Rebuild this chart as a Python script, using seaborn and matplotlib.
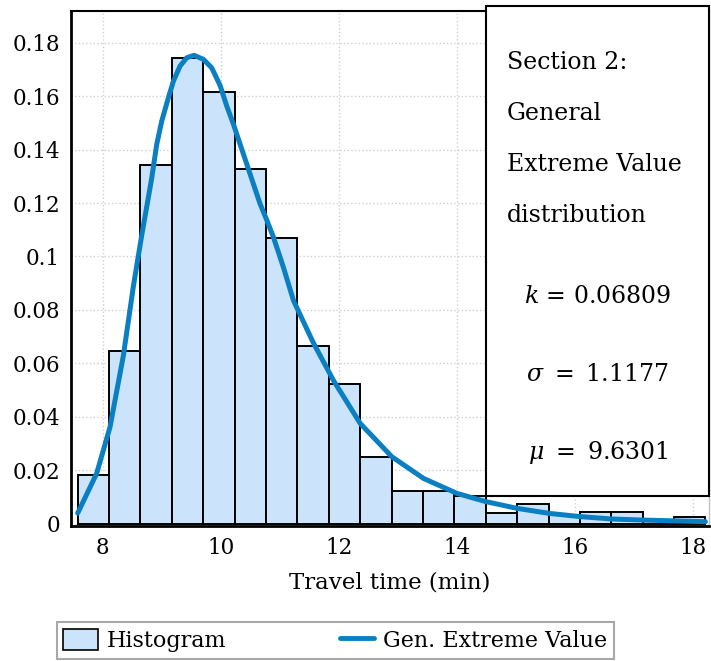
import numpy as np
import pandas as pd
import matplotlib
matplotlib.use("Agg")
import matplotlib.pyplot as plt
import matplotlib.ticker as mticker
from matplotlib.patches import Rectangle, Patch
from matplotlib.lines import Line2D
import seaborn as sns

sns.set_style("white")
plt.rcParams['font.family'] = ['DejaVu Serif']
plt.rcParams['mathtext.fontset'] = 'dejavuserif'
plt.rcParams['text.color'] = 'black'
plt.rcParams['axes.labelcolor'] = 'black'
plt.rcParams['xtick.labelcolor'] = 'black'
plt.rcParams['ytick.labelcolor'] = 'black'

# histogram (relative frequency per bin), 20 equal bins
bin_lo, bin_hi, n_bins = 7.576, 18.21, 20
hist_heights = [0.0182, 0.0646, 0.1342, 0.1744, 0.1614, 0.1329, 0.1070, 0.0664,
                0.0521, 0.0250, 0.0122, 0.0122, 0.0103, 0.0041, 0.0072, 0.0032,
                0.0042, 0.0042, 0.0012, 0.0024]

# fitted GEV curve
curve_x = [7.576, 7.898, 8.124, 8.349, 8.519, 8.661, 8.773, 8.831, 8.915, 9.000,
           9.112, 9.197, 9.310, 9.424, 9.547, 9.705, 9.847, 9.988, 10.101, 10.214,
           10.327, 10.441, 10.553, 10.667, 10.779, 10.892, 11.061, 11.231, 11.569,
           11.908, 12.361, 12.898, 13.434, 14.0, 14.492, 15.017, 15.564, 16.090,
           16.627, 17.163, 18.208]
curve_y = [0.0039, 0.0188, 0.0362, 0.0628, 0.0888, 0.1080, 0.1221, 0.1295, 0.1420,
           0.1507, 0.1594, 0.1656, 0.1713, 0.1744, 0.1753, 0.1738, 0.1706, 0.1640,
           0.1563, 0.1495, 0.1420, 0.1345, 0.1271, 0.1196, 0.1136, 0.1072, 0.0959,
           0.0835, 0.0676, 0.0536, 0.0375, 0.0250, 0.0169, 0.0113, 0.0082, 0.0057,
           0.0038, 0.0026, 0.0017, 0.0013, 0.0007]

box_lines = ["Section 2:", "General", "Extreme Value", "distribution"]
param_lines = ["$k$ = 0.06809", r"$\sigma\ =\ 1.1177$", r"$\mu\ =\ 9.6301$"]

edges = np.linspace(bin_lo, bin_hi, n_bins + 1)
centers = (edges[:-1] + edges[1:]) / 2
df = pd.DataFrame({'x': centers, 'w': hist_heights})
curve = pd.DataFrame({'x': curve_x, 'y': curve_y})

bar_color = '#cce4fb'
line_color = '#0a80c2'

fig = plt.figure(figsize=(7.11, 6.61), dpi=100)
ax = fig.add_axes([0.0999, 0.2047, 0.8973, 0.7787])

sns.histplot(data=df, x='x', weights='w', bins=edges.tolist(), stat='count',
             color=bar_color, alpha=1, edgecolor='black', linewidth=1.4, ax=ax)
sns.lineplot(data=curve, x='x', y='y', sort=False, color=line_color,
             linewidth=3.6, ax=ax)

ax.set_xlim(7.463, 18.27)
ax.set_ylim(-0.0008, 0.1919)
ax.xaxis.set_major_locator(mticker.MultipleLocator(2))
ax.xaxis.set_minor_locator(mticker.MultipleLocator(0.5))
ax.yaxis.set_major_locator(mticker.MultipleLocator(0.02))
ax.yaxis.set_minor_locator(mticker.MultipleLocator(0.005))
ax.yaxis.set_major_formatter(mticker.FuncFormatter(lambda v, p: f'{v:g}'))
ax.tick_params(which='major', direction='out', length=6, width=1.2, color='#707070',
               labelsize=15.5, pad=2)
ax.tick_params(which='minor', direction='out', length=3.5, width=1, color='#707070')
ax.grid(True, which='major', linestyle=':', color='#d0d0d0', linewidth=1)
ax.set_axisbelow(True)
for side in ['left', 'bottom']:
    ax.spines[side].set_linewidth(2)
    ax.spines[side].set_color('black')
ax.spines['top'].set_linewidth(1.5)
ax.spines['top'].set_color('black')
ax.spines['right'].set_linewidth(1)
ax.spines['right'].set_color('#c0c0c0')

ax.set_xlabel('Travel time (min)', fontsize=16.5, labelpad=9)
ax.set_ylabel('')

# parameter box
fig.patches.append(Rectangle((0.683, 0.2496), 0.314, 0.7413, transform=fig.transFigure,
                             facecolor='white', edgecolor='black', linewidth=1.5,
                             zorder=5))
for i, s in enumerate(box_lines):
    fig.text(0.713, 0.906 - i * 0.0775, s, fontsize=17, ha='left', va='center',
             zorder=6)
for i, s in enumerate(param_lines):
    fig.text(0.841, 0.551 - i * 0.1175, s, fontsize=17, ha='center', va='center',
             zorder=6)

handles = [Patch(facecolor=bar_color, edgecolor='black', linewidth=1.2),
           Line2D([0], [0], color=line_color, linewidth=3.5)]
leg = fig.legend(handles, ['Histogram', 'Gen. Extreme Value'], ncol=2,
                 loc='lower left', bbox_to_anchor=(0.0797, 0.003, 0.7835, 0.056),
                 mode='expand', borderaxespad=0, fontsize=16, fancybox=False,
                 framealpha=1, edgecolor='#a8a8a8', handlelength=1.55,
                 handleheight=1.1, handletextpad=0.4, borderpad=0.3)
leg.get_frame().set_linewidth(1.5)

fig.savefig('out.png', dpi=100)
